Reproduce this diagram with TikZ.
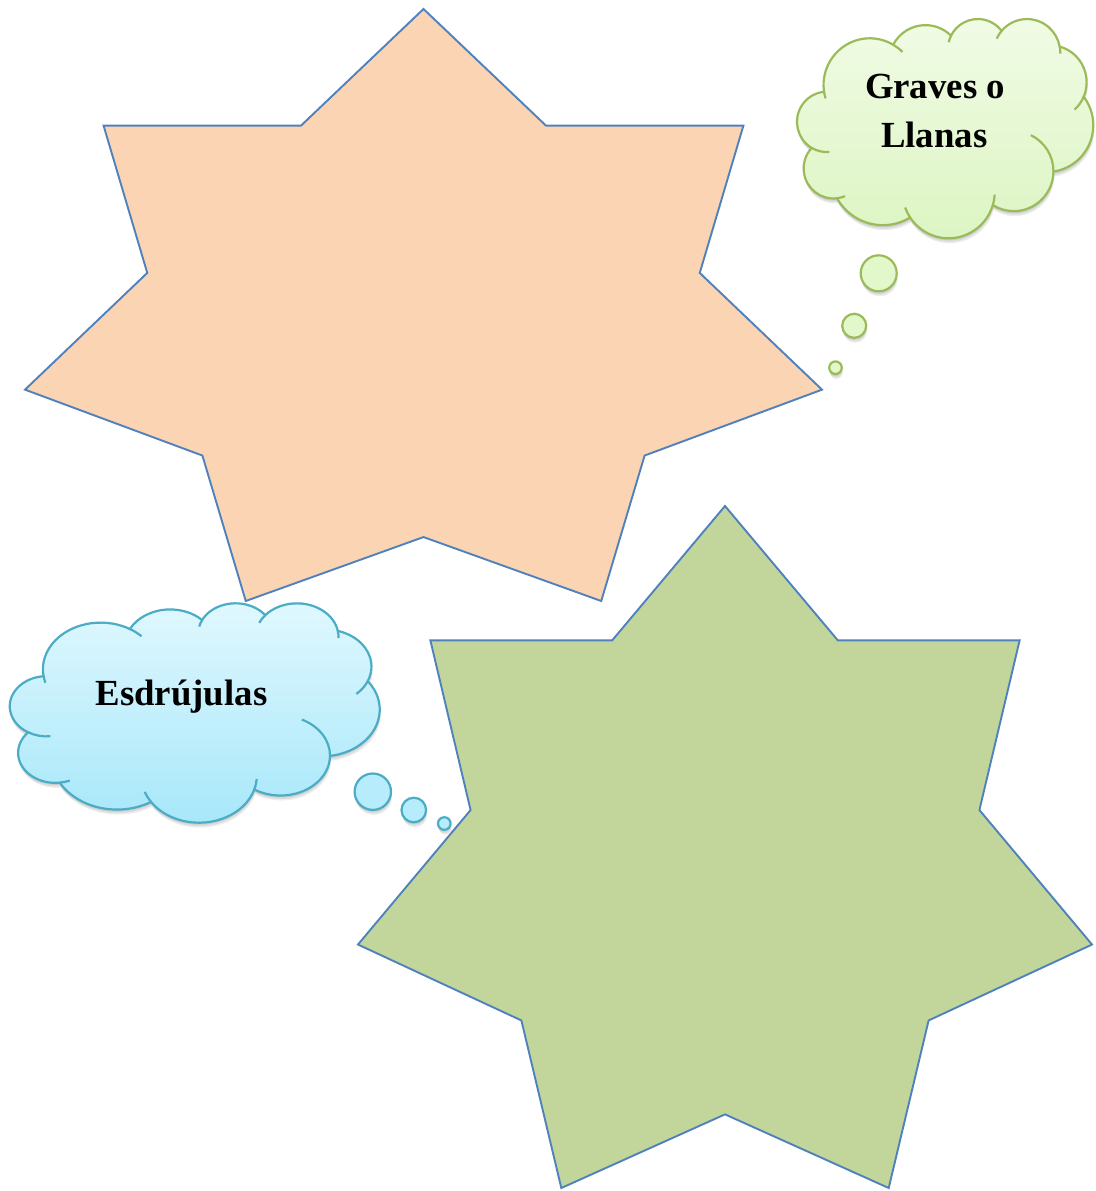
\documentclass[tikz,border=0pt]{standalone}
\usepackage{fontspec}
\setmainfont{Liberation Serif}
\begin{document}
\begin{tikzpicture}[x=1pt,y=1pt]
\definecolor{peach}{HTML}{FBD4B4}
\definecolor{olive}{HTML}{C2D69B}
\definecolor{staredge}{HTML}{4F81BD}
\definecolor{gedge}{HTML}{9BBB59}
\definecolor{gtop}{HTML}{F1FBE6}
\definecolor{gbot}{HTML}{DCF5C2}
\definecolor{gbub}{HTML}{E2F7CA}
\definecolor{bedge}{HTML}{4BACC6}
\definecolor{btop}{HTML}{E1F8FE}
\definecolor{bbot}{HTML}{A6E7FA}
\definecolor{bbub}{HTML}{B6ECFB}
\tikzset{
  starline/.style={draw=staredge, line width=1.9pt, line join=miter},
  gcloud/.style={draw=gedge, line width=2.2pt, top color=gtop, bottom color=gbot},
  bcloud/.style={draw=bedge, line width=2.2pt, top color=btop, bottom color=bbot},
  ginner/.style={draw=gedge, line width=2.2pt},
  binner/.style={draw=bedge, line width=2.2pt},
  gbubble/.style={draw=gedge, line width=2.2pt, fill=gbub},
  bbubble/.style={draw=bedge, line width=2.2pt, fill=bbub},
  shade1/.style={fill=black, opacity=0.07, draw=none},
  label/.style={font=\bfseries\fontsize{36.8}{49}\selectfont, inner sep=0pt, anchor=base}
}
\useasboundingbox (0,0) rectangle (1095,-1191);
\fill[white] (0,0) rectangle (1095,-1191);

% star outline in unit box (y down)
\def\starpts{(0.5,0) -- (0.6537,0.197) -- (0.9014,0.197) -- (0.8466,0.4458) -- (1,0.643) -- (0.7774,0.7543) -- (0.7230,1) -- (0.5,0.892) -- (0.2770,1) -- (0.2226,0.7543) -- (0,0.643) -- (0.1534,0.4458) -- (0.0986,0.197) -- (0.3463,0.197) -- cycle}

% cloud outline in a 432 x 432 box (y down)
\def\cloudouter{(39.00,143.70)
 arc[start angle=-187.747,end angle=-59.64,x radius=67.53,y radius=91.90]
 arc[start angle=-152.018,end angle=-45.46,x radius=53.33,y radius=72.67]
 arc[start angle=-153.495,end angle=-37.33,x radius=43.65,y radius=59.45]
 arc[start angle=-139.709,end angle=-10.213,x radius=48.57,y radius=65.95]
 arc[start angle=-74.77,end angle=23.21,x radius=53.33,y radius=72.73]
 arc[start angle=-37.525,end angle=81.863,x radius=67.75,y radius=92.20]
 arc[start angle=0.4596,end angle=121.98,x radius=57.85,y radius=78.67]
 arc[start angle=16.845,end angle=146.23,x radius=67.52,y radius=92.15]
 arc[start angle=58.99,end angle=150.20,x radius=77.20,y radius=105.43]
 arc[start angle=83.306,end angle=223.10,x radius=43.60,y radius=59.18]
 arc[start angle=120.36,end angle=264.113,x radius=43.45,y radius=59.45]
 -- cycle}
\def\cloudinner{
 (105.91,131.31) ++(-59.64:67.53 and 91.90) arc[start angle=-59.64,end angle=-45,x radius=67.53,y radius=91.90]
 (105.91,131.31) ++(-196.8:67.53 and 91.90) arc[start angle=-196.8,end angle=-187.75,x radius=67.53,y radius=91.90]
 (263.62,60.84) ++(-166.7:43.65 and 59.45) arc[start angle=-166.7,end angle=-153.5,x radius=43.65,y radius=59.45]
 (335.38,67.44) ++(-155.3:48.57 and 65.95) arc[start angle=-155.3,end angle=-139.7,x radius=48.57,y radius=65.95]
 (335.38,67.44) ++(-10.2:48.57 and 65.95) arc[start angle=-10.2,end angle=2,x radius=48.57,y radius=65.95]
 (369.17,125.93) ++(23.2:53.33 and 72.73) arc[start angle=23.2,end angle=48,x radius=53.33,y radius=72.73]
 (316.19,301.39) ++(-64.6:57.85 and 78.67) arc[start angle=-64.6,end angle=0.46,x radius=57.85,y radius=78.67]
 (220.93,341.42) ++(3.8:67.52 and 92.15) arc[start angle=3.8,end angle=16.85,x radius=67.52,y radius=92.15]
 (220.93,341.42) ++(146.23:67.52 and 92.15) arc[start angle=146.23,end angle=160,x radius=67.52,y radius=92.15]
 (52.95,295.91) ++(67.3:43.60 and 59.18) arc[start angle=67.3,end angle=83.3,x radius=43.60,y radius=59.18]
 (43.08,204.17) ++(84.8:43.45 and 59.45) arc[start angle=84.8,end angle=120.36,x radius=43.45,y radius=59.45]
}

% ---- stars
\begin{scope}[shift={(25,-9)}, xscale=797, yscale=-592]
  \path[starline, fill=peach] \starpts;
\end{scope}
\begin{scope}[shift={(358,-506)}, xscale=734, yscale=-682]
  \path[starline, fill=olive] \starpts;
\end{scope}

% ---- green cloud (Graves o Llanas): soft shadow, then cloud
\foreach \dx/\dy in {0/-2, 0.5/-3.5, 1/-5}{
  \begin{scope}[shift={(\dx,\dy)}]
    \begin{scope}[shift={(797.25,-18.3)}, xscale=295.9/432, yscale=-219.2/432]
      \path[shade1] \cloudouter;
    \end{scope}
    \fill[shade1] (878.7,-273.3) circle[radius=18];
    \fill[shade1] (854.2,-325.8) circle[radius=12];
    \fill[shade1] (835.5,-367.7) circle[radius=6.3];
  \end{scope}
}
\begin{scope}[shift={(797.25,-18.3)}, xscale=295.9/432, yscale=-219.2/432]
  \path[gcloud] \cloudouter;
  \path[ginner] \cloudinner;
\end{scope}
\path[gbubble] (878.7,-273.3) circle[radius=18];
\path[gbubble] (854.2,-325.8) circle[radius=12];
\path[gbubble] (835.5,-367.7) circle[radius=6.3];

% ---- blue cloud (Esdrujulas): soft shadow, then cloud
\foreach \dx/\dy in {0/-2, 0.5/-3.5, 1/-5}{
  \begin{scope}[shift={(\dx,\dy)}]
    \begin{scope}[shift={(10.1,-602.6)}, xscale=369.5/432, yscale=-219.3/432]
      \path[shade1] \cloudouter;
    \end{scope}
    \fill[shade1] (372.8,-791.7) circle[radius=18.2];
    \fill[shade1] (413.8,-810) circle[radius=12.3];
    \fill[shade1] (444.3,-823.5) circle[radius=6.3];
  \end{scope}
}
\begin{scope}[shift={(10.1,-602.6)}, xscale=369.5/432, yscale=-219.3/432]
  \path[bcloud] \cloudouter;
  \path[binner] \cloudinner;
\end{scope}
\path[bbubble] (372.8,-791.7) circle[radius=18.2];
\path[bbubble] (413.8,-810) circle[radius=12.3];
\path[bbubble] (444.3,-823.5) circle[radius=6.3];

% ---- labels
\node[label] (graves) at (935,-98) {Graves o};
\node[label] (llanas) at (934.2,-147) {Llanas};
\node[label] (esdru) at (181.5,-705) {Esdrújulas};
\end{tikzpicture}
\end{document}
